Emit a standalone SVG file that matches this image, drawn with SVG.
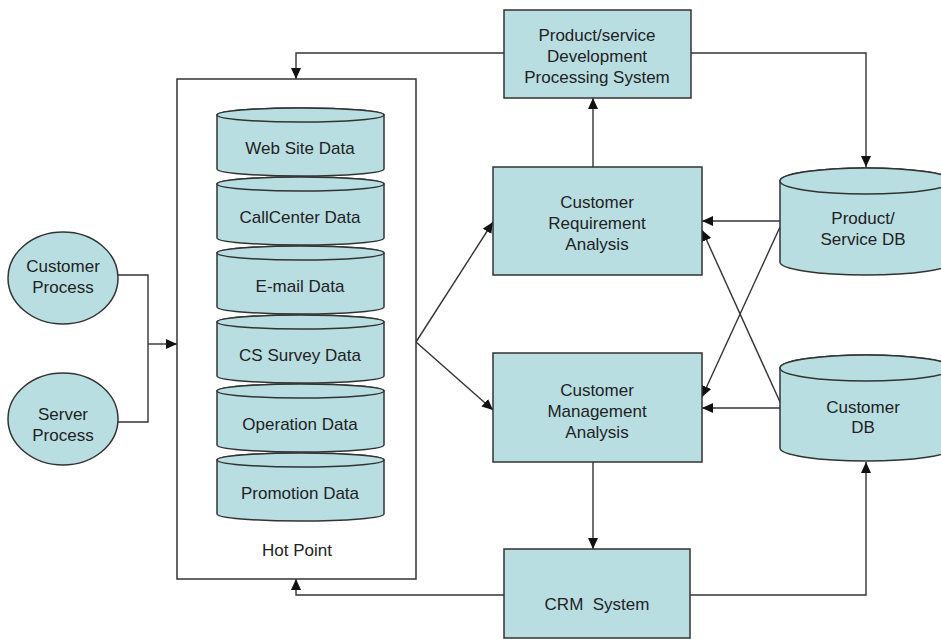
<svg xmlns="http://www.w3.org/2000/svg" width="941" height="639" viewBox="0 0 941 639">
<style>
.n{fill:#b9dee2;stroke:#333;stroke-width:1.5}
.t{font-family:"Liberation Sans",Arial,sans-serif;font-size:17px;fill:#222;text-anchor:middle}
.c{fill:none;stroke:#333;stroke-width:1.4}
.a{marker-end:url(#ar)}
</style>
<defs>
<marker id="ar" markerUnits="userSpaceOnUse" markerWidth="12" markerHeight="10" refX="11" refY="5" orient="auto">
<path d="M0,0 L11,5 L0,10 Z" fill="#111"/>
</marker>
</defs>
<rect width="941" height="639" fill="#fff"/>
<g id="connectors">
<path class="c a" d="M504,53 H296 V79"/>
<path class="c a" d="M691,53 H866 V167"/>
<path class="c a" d="M593,167 V98"/>
<path class="c a" d="M593,462 V549"/>
<path class="c a" d="M504,595 H296 V579"/>
<path class="c a" d="M690,595 H866 V462"/>
<path class="c" d="M118,275 H148 V422 H118"/>
<path class="c a" d="M148,344 H177"/>
<path class="c a" d="M416,342 L493,222"/>
<path class="c a" d="M416,342 L493,410"/>
<path class="c a" d="M780,221 H702"/>
<path class="c a" d="M780,227 L702,397"/>
<path class="c a" d="M780,402 L702,230"/>
<path class="c a" d="M780,408 H702"/>
</g>
<g id="customer-process">
<ellipse class="n" cx="63" cy="278" rx="55" ry="46"/>
<text class="t" x="63" y="272">Customer</text>
<text class="t" x="63" y="293">Process</text>
</g>
<g id="server-process">
<ellipse class="n" cx="63" cy="419" rx="55" ry="46"/>
<text class="t" x="63" y="420">Server</text>
<text class="t" x="63" y="441">Process</text>
</g>
<g id="hot-point">
<rect x="177" y="79" width="239" height="500" fill="#fff" stroke="#333" stroke-width="1.5"/>
<text class="t" x="297" y="556">Hot Point</text>
</g>
<g id="web-site-data">
<path class="n" d="M217,115 A83.5,7 0 0 1 384,115 V169 A83.5,7 0 0 1 217,169 Z"/>
<ellipse class="n" cx="300.5" cy="115" rx="83.5" ry="7"/>
<text class="t" x="300" y="154">Web Site Data</text>
</g>
<g id="callcenter-data">
<path class="n" d="M217,184 A83.5,7 0 0 1 384,184 V238 A83.5,7 0 0 1 217,238 Z"/>
<ellipse class="n" cx="300.5" cy="184" rx="83.5" ry="7"/>
<text class="t" x="300" y="223">CallCenter Data</text>
</g>
<g id="email-data">
<path class="n" d="M217,253 A83.5,7 0 0 1 384,253 V307 A83.5,7 0 0 1 217,307 Z"/>
<ellipse class="n" cx="300.5" cy="253" rx="83.5" ry="7"/>
<text class="t" x="300" y="292">E-mail Data</text>
</g>
<g id="cs-survey-data">
<path class="n" d="M217,322 A83.5,7 0 0 1 384,322 V376 A83.5,7 0 0 1 217,376 Z"/>
<ellipse class="n" cx="300.5" cy="322" rx="83.5" ry="7"/>
<text class="t" x="300" y="361">CS Survey Data</text>
</g>
<g id="operation-data">
<path class="n" d="M217,391 A83.5,7 0 0 1 384,391 V445 A83.5,7 0 0 1 217,445 Z"/>
<ellipse class="n" cx="300.5" cy="391" rx="83.5" ry="7"/>
<text class="t" x="300" y="430">Operation Data</text>
</g>
<g id="promotion-data">
<path class="n" d="M217,460 A83.5,7 0 0 1 384,460 V514 A83.5,7 0 0 1 217,514 Z"/>
<ellipse class="n" cx="300.5" cy="460" rx="83.5" ry="7"/>
<text class="t" x="300" y="499">Promotion Data</text>
</g>
<g id="product-service-development">
<rect class="n" x="504" y="10" width="187" height="88"/>
<text class="t" x="597" y="41">Product/service</text>
<text class="t" x="597" y="62">Development</text>
<text class="t" x="597" y="83">Processing System</text>
</g>
<g id="customer-requirement-analysis">
<rect class="n" x="493" y="167" width="209" height="108"/>
<text class="t" x="597" y="208">Customer</text>
<text class="t" x="597" y="229">Requirement</text>
<text class="t" x="597" y="250">Analysis</text>
</g>
<g id="customer-management-analysis">
<rect class="n" x="493" y="353" width="209" height="109"/>
<text class="t" x="597" y="396">Customer</text>
<text class="t" x="597" y="417">Management</text>
<text class="t" x="597" y="438">Analysis</text>
</g>
<g id="crm-system">
<rect class="n" x="504" y="549" width="186" height="89"/>
<text class="t" x="597" y="610" xml:space="preserve">CRM  System</text>
</g>
<g id="product-service-db">
<path class="n" d="M780,181 A86,13 0 0 1 952,181 V262 A86,13 0 0 1 780,262 Z"/>
<ellipse class="n" cx="866" cy="181" rx="86" ry="13"/>
<text class="t" x="863" y="224">Product/</text>
<text class="t" x="863" y="245">Service DB</text>
</g>
<g id="customer-db">
<path class="n" d="M780,368 A86,13 0 0 1 952,368 V448 A86,13 0 0 1 780,448 Z"/>
<ellipse class="n" cx="866" cy="368" rx="86" ry="13"/>
<text class="t" x="863" y="413">Customer</text>
<text class="t" x="863" y="433">DB</text>
</g>
</svg>
